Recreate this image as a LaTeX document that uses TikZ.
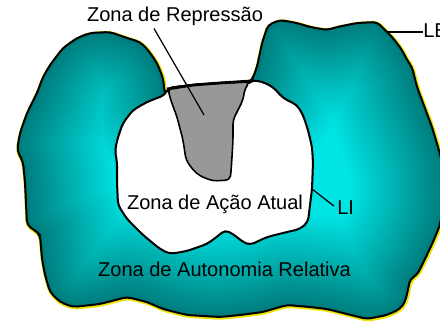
\documentclass[tikz,border=0pt]{standalone}
\usepackage{fontspec}
\setmainfont{Liberation Sans}
\usepackage{tikz}

\definecolor{ledark}{RGB}{0,122,122}
\definecolor{lecyan}{RGB}{0,228,228}
\definecolor{leyellow}{RGB}{235,228,0}
\definecolor{repgray}{RGB}{152,152,152}

% outline of the outer region (LE)
\def\outerline{(17,150) -- (20,133) -- (27,113) -- (37,93) -- (43,77) -- (50,65) -- (63,48) -- (77,38)
 -- (90,33) -- (110,32) -- (127,38) -- (140,42) -- (148,50) -- (157,63) -- (163,78) -- (165,95)
 -- (168,88) -- (193,85) -- (220,83) -- (250,82) -- (252,80) -- (257,67) -- (262,43) -- (268,25)
 -- (280,20) -- (297,23) -- (310,27) -- (327,30) -- (337,27) -- (357,23) -- (377,22) -- (383,28)
 -- (393,38) -- (402,50) -- (407,60) -- (412,67) -- (417,87) -- (423,103) -- (432,127) -- (438,147)
 -- (443,165) -- (444,200) -- (440,225) -- (433,242) -- (425,259) -- (417,275) -- (410,279) -- (408,290)
 -- (405,302) -- (400,309) -- (387,315) -- (367,319) -- (347,314) -- (327,309) -- (310,307) -- (287,305)
 -- (273,309) -- (263,312) -- (240,315) -- (220,317) -- (187,315) -- (163,309) -- (147,302) -- (127,297)
 -- (100,304) -- (73,307) -- (60,302) -- (50,292) -- (45,275) -- (42,259) -- (40,235) -- (37,232)
 -- (27,225) -- (25,182) -- (23,162) -- cycle}
% outline of the inner region (LI)
\def\innerline{(165,95) -- (168,88) -- (193,85) -- (220,83) -- (250,82) -- (252,80) -- (263,82)
 -- (273,87) -- (283,98) -- (297,105) -- (303,115) -- (308,130) -- (312,147) -- (313,162) -- (312,189)
 -- (310,205) -- (308,222) -- (300,229) -- (283,233) -- (267,237) -- (250,245) -- (243,242) -- (233,234)
 -- (225,230) -- (218,236) -- (207,244) -- (187,251) -- (170,254) -- (160,249) -- (143,235) -- (127,219)
 -- (118,205) -- (117,182) -- (117,162) -- (115,150) -- (118,137) -- (123,123) -- (133,110) -- (147,102)
 -- cycle}

\tikzset{
  lbl/.style={font=\fontsize{11.4}{13.7}\selectfont, inner sep=0pt},
  edge/.style={line width=1.15pt, line join=round},
  leader/.style={line width=0.7pt}
}

\begin{document}
\begin{tikzpicture}[x=0.02cm,y=-0.02cm,rounded corners=2.5pt]
\useasboundingbox (0,0) rectangle (440,324);

% outer region
\draw[leyellow, line width=2.3pt, line join=round, shift={(0.6,0.8)}] \outerline;
\begin{scope}
\clip \outerline;
\fill[lecyan] (0,0) rectangle (450,330);
\foreach \d in {96,92,...,4} {
  \pgfmathsetmacro\c{100*\d/96}
  \draw[line width=\d*0.04cm, color=lecyan!\c!ledark, line join=round] \outerline;
}
\end{scope}
\draw[edge] \outerline;

% inner region and repression zone
\filldraw[fill=white, edge] \innerline;
\filldraw[fill=repgray, edge, line width=0.9pt] (168,88) -- (193,85) -- (220,83) -- (250,82) -- (245,88)
 -- (243,100) -- (238,110) -- (233,120) -- (233,140) -- (232,157) -- (231,172) -- (230,180) -- (213,181)
 -- (200,176) -- (193,170) -- (186,160) -- (183,140) -- (177,117) -- (170,98) -- cycle;
\draw[edge, line width=1.6pt] (167,89) -- (193,85) -- (220,83) -- (251,81);

% labels
\node[lbl, anchor=base] (repressao) at (175,22) {Zona de Repressão};
\node[lbl, anchor=base] (acao) at (215,210) {Zona de Ação Atual};
\node[lbl, anchor=base] (autonomia) at (224.5,277) {Zona de Autonomia Relativa};
\node[lbl, anchor=base west] (le) at (423,38) {LE};
\node[lbl, anchor=base west] (li) at (337,215) {LI};

\coordinate (repressaopt) at (204,115);
\coordinate (lept) at (388,32);
\coordinate (lipt) at (312,189);

\draw[leader, sharp corners] ([shift={(-21,2)}]repressao.south) -- (repressaopt);
\draw[leader, sharp corners] (lept) -- (lept -| le.west);
\draw[leader, sharp corners] (lipt) -- ([shift={(-3,-2)}]li.west);
\end{tikzpicture}
\end{document}
